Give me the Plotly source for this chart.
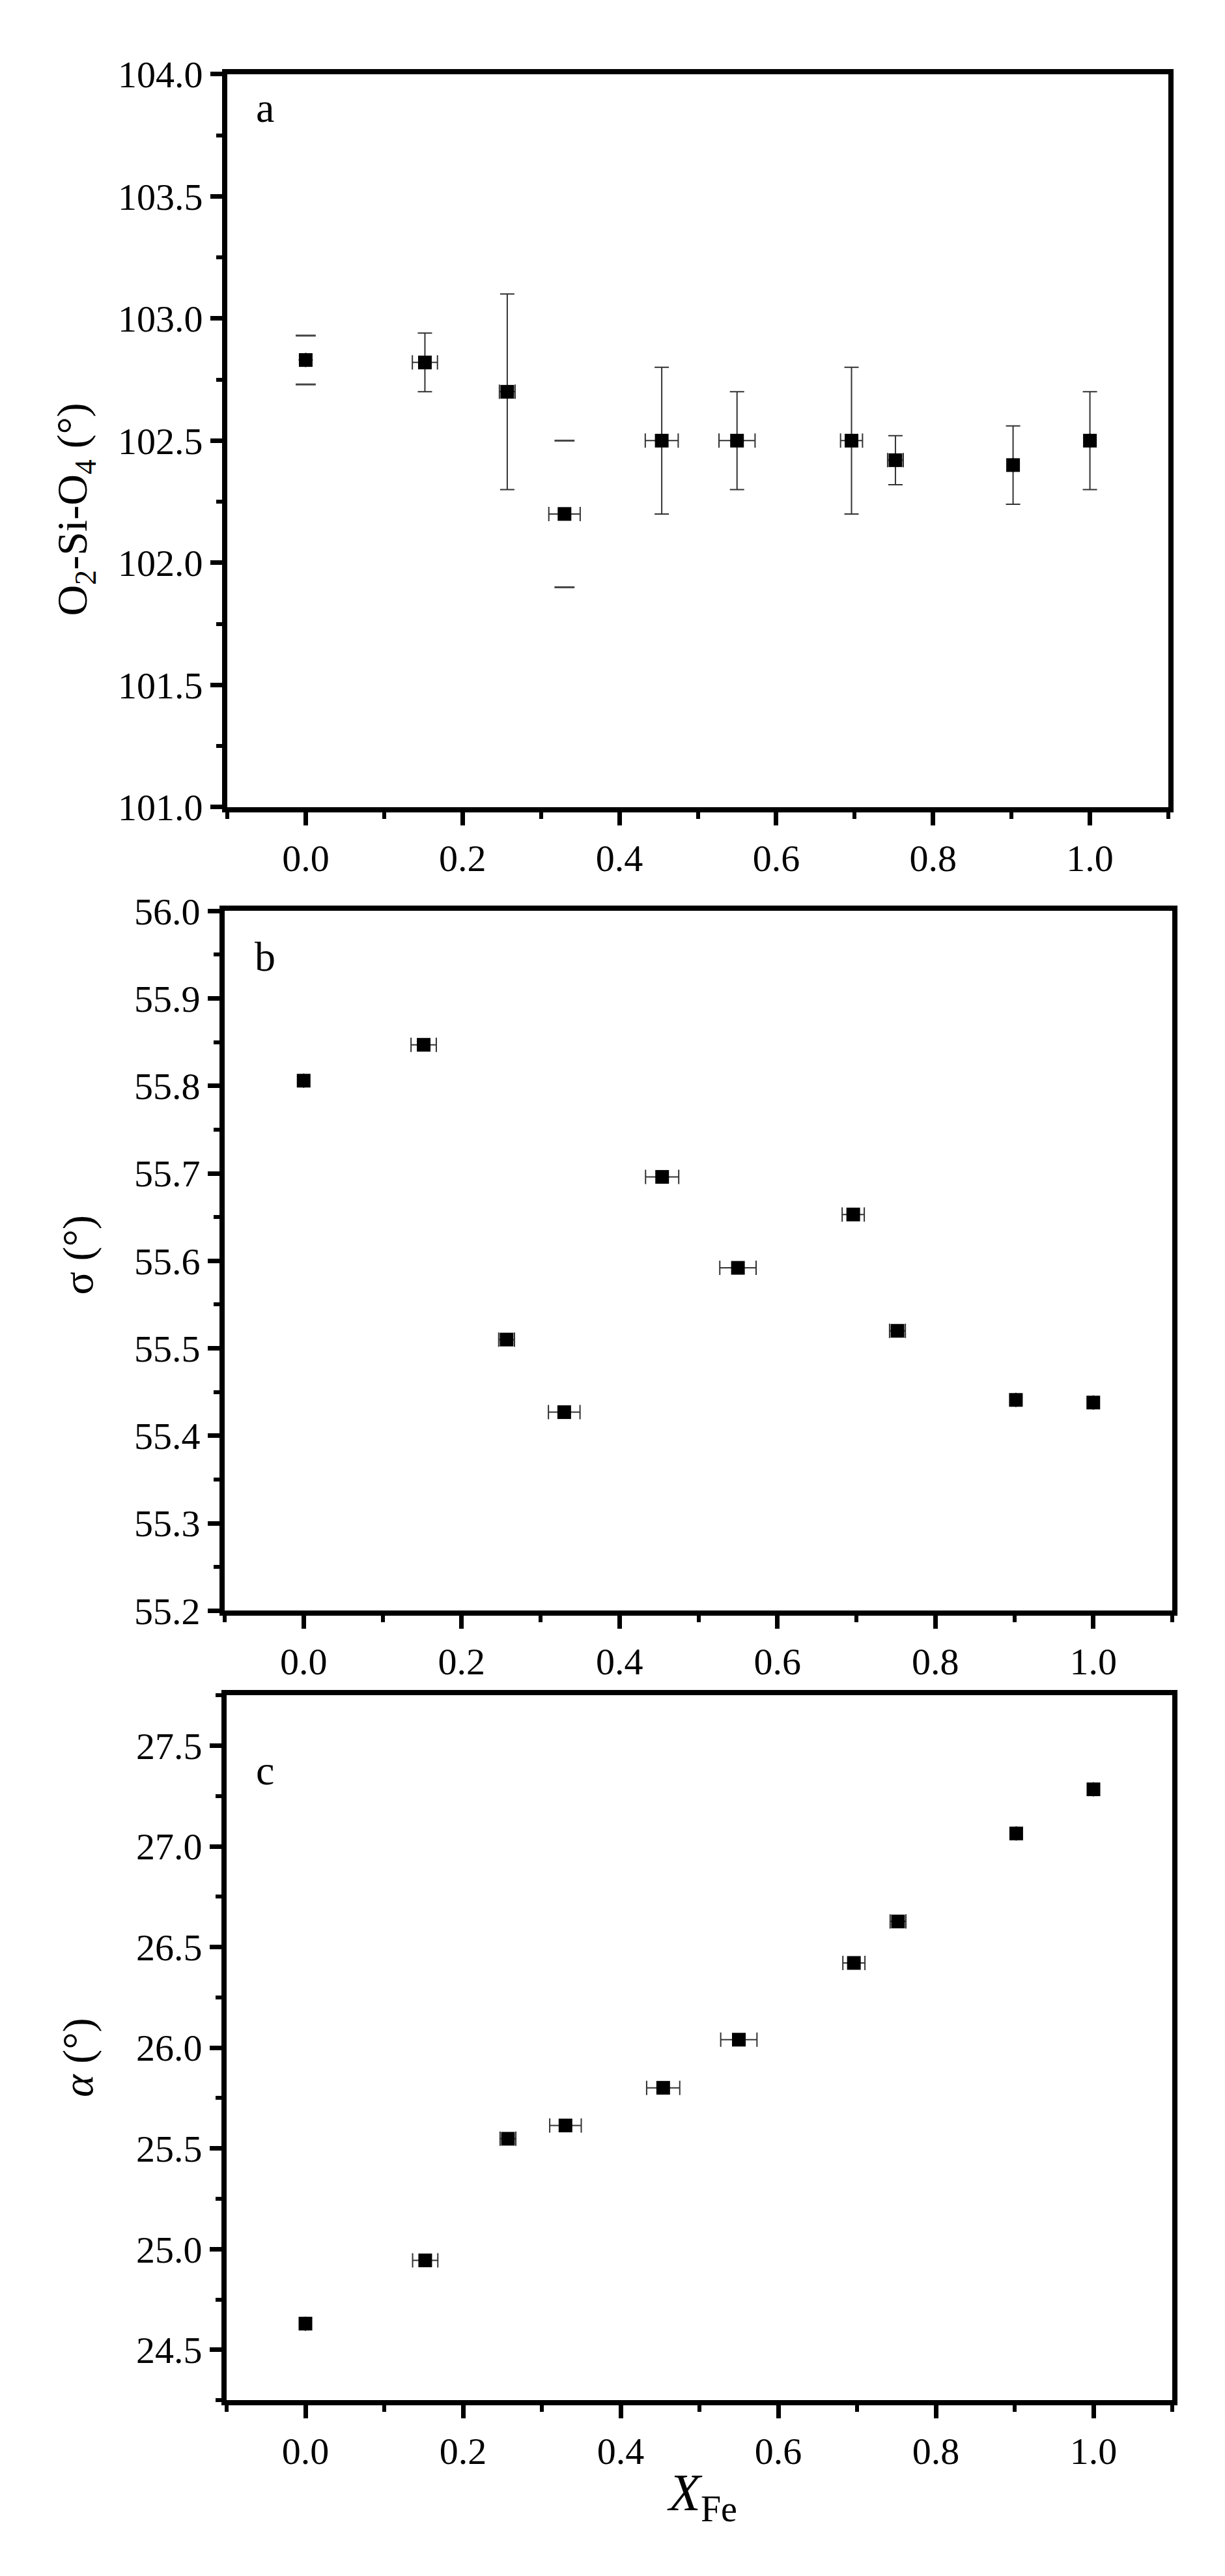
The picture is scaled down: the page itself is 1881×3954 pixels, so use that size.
import plotly.graph_objects as go

# ---------------- data ----------------
x_fe = [0.0, 0.152, 0.257, 0.330, 0.454, 0.550, 0.696, 0.752, 0.902, 1.000]
x_err = [0.0, 0.016, 0.010, 0.020, 0.021, 0.023, 0.014, 0.010, 0.0, 0.0]

angle_a = [102.83, 102.82, 102.70, 102.20, 102.50, 102.50, 102.50, 102.42, 102.40, 102.50]
err_a = [0.10, 0.12, 0.40, 0.30, 0.30, 0.20, 0.30, 0.10, 0.16, 0.20]
caps_only = [0, 3]  # points whose vertical bar shows only the caps

sigma_b = [55.806, 55.847, 55.510, 55.427, 55.696, 55.592, 55.653, 55.520, 55.441, 55.438]
alpha_c = [24.630, 24.944, 25.548, 25.614, 25.801, 26.040, 26.421, 26.627, 27.064, 27.283]

x_ticks = [0.0, 0.2, 0.4, 0.6, 0.8, 1.0]

W, H = 1881, 3954
FONT = "Liberation Serif, Times New Roman, serif"
TICK_SIZE = 58
TITLE_SIZE = 66

def px_x(p):
    return p / W

def px_y(p):
    return 1 - p / H

fig = go.Figure()

marker = dict(symbol="square", size=21, color="black", line=dict(width=0))
ex = dict(type="data", array=x_err, color="#333333", thickness=2, width=11)

# panel a
err_a_line = [0.0 if i in caps_only else e for i, e in enumerate(err_a)]
fig.add_trace(go.Scatter(
    x=x_fe, y=angle_a, mode="markers", marker=marker,
    error_y=dict(type="data", array=err_a_line, color="#333333", thickness=2, width=11),
    error_x=ex, xaxis="x", yaxis="y", showlegend=False))
cap_x = [x_fe[i] for i in caps_only] * 2
cap_y = [angle_a[i] + err_a[i] for i in caps_only] + [angle_a[i] - err_a[i] for i in caps_only]
fig.add_trace(go.Scatter(
    x=cap_x, y=cap_y, mode="markers",
    marker=dict(symbol="line-ew", size=22, line=dict(width=3, color="#444444")),
    xaxis="x", yaxis="y", showlegend=False))

# panel b
fig.add_trace(go.Scatter(
    x=x_fe, y=sigma_b, mode="markers", marker=marker, error_x=ex,
    xaxis="x2", yaxis="y2", showlegend=False))

# panel c
fig.add_trace(go.Scatter(
    x=x_fe, y=alpha_c, mode="markers", marker=marker, error_x=ex,
    xaxis="x3", yaxis="y3", showlegend=False))

def xax(domain, anchor):
    return dict(
        domain=domain, anchor=anchor, range=[-0.1, 1.1],
        tickvals=x_ticks, tickformat=".1f",
        ticks="outside", ticklen=20, tickwidth=7, tickcolor="black",
        minor=dict(ticks="outside", ticklen=10, tickwidth=6, tickcolor="black", dtick=0.1, tick0=0),
        showline=True, linewidth=8, linecolor="black", mirror=True,
        showgrid=False, zeroline=False,
        tickfont=dict(family=FONT, size=TICK_SIZE, color="black"),
    )

def yax(domain, anchor, rng, dtick, minor_dtick, fmt, tick0):
    return dict(
        domain=domain, anchor=anchor, range=rng,
        dtick=dtick, tick0=tick0, tickformat=fmt,
        ticks="outside", ticklen=18, tickwidth=7, tickcolor="black",
        minor=dict(ticks="outside", ticklen=9, tickwidth=6, tickcolor="black", dtick=minor_dtick, tick0=tick0),
        showline=True, linewidth=8, linecolor="black", mirror=True,
        showgrid=False, zeroline=False,
        tickfont=dict(family=FONT, size=TICK_SIZE, color="black"),
    )

dom_a_x = [px_x(341), px_x(1786)]
dom_b_x = [px_x(337), px_x(1792)]
dom_c_x = [px_x(340), px_x(1792)]
dom_a_y = [px_y(1219), px_y(75)]
dom_b_y = [px_y(2473), px_y(1381)]
dom_c_y = [px_y(3705), px_y(2605)]

def label(txt, xp, yp):
    return dict(text=txt, x=px_x(xp), y=px_y(yp), xref="paper", yref="paper",
                xanchor="left", yanchor="middle", showarrow=False,
                font=dict(family=FONT, size=64, color="black"))

def ytitle(txt, xp, yp):
    return dict(text=txt, x=px_x(xp), y=px_y(yp), xref="paper", yref="paper",
                xanchor="center", yanchor="middle", textangle=-90, showarrow=False,
                font=dict(family=FONT, size=TITLE_SIZE, color="black"))

annotations = [
    label("a", 383, 128),
    label("b", 381, 1452),
    label("c", 383, 2722),
    ytitle("O<sub>2</sub>-Si-O<sub>4</sub> (°)", 108, 755),
    ytitle("σ (°)", 112, 1918),
    ytitle("<i>α</i> (°)", 112, 3170),
    dict(text="<i>X</i><sub>Fe</sub>", x=px_x(1070), y=px_y(3855),
         xref="paper", yref="paper", xanchor="center", yanchor="middle",
         showarrow=False, font=dict(family=FONT, size=80, color="black")),
]

fig.update_layout(
    width=W, height=H,
    margin=dict(l=0, r=0, t=0, b=0),
    paper_bgcolor="white", plot_bgcolor="white",
    xaxis=xax(dom_a_x, "y"),
    xaxis2=xax(dom_b_x, "y2"),
    xaxis3=xax(dom_c_x, "y3"),
    yaxis=yax(dom_a_y, "x", [101.0, 104.0], 0.5, 0.25, ".1f", 101.0),
    yaxis2=yax(dom_b_y, "x2", [55.2, 56.0], 0.1, 0.05, ".1f", 55.2),
    yaxis3=yax(dom_c_y, "x3", [24.25, 27.75], 0.5, 0.25, ".1f", 24.5),
    annotations=annotations,
    font=dict(family=FONT, color="black"),
)

fig.write_html("out.html")
